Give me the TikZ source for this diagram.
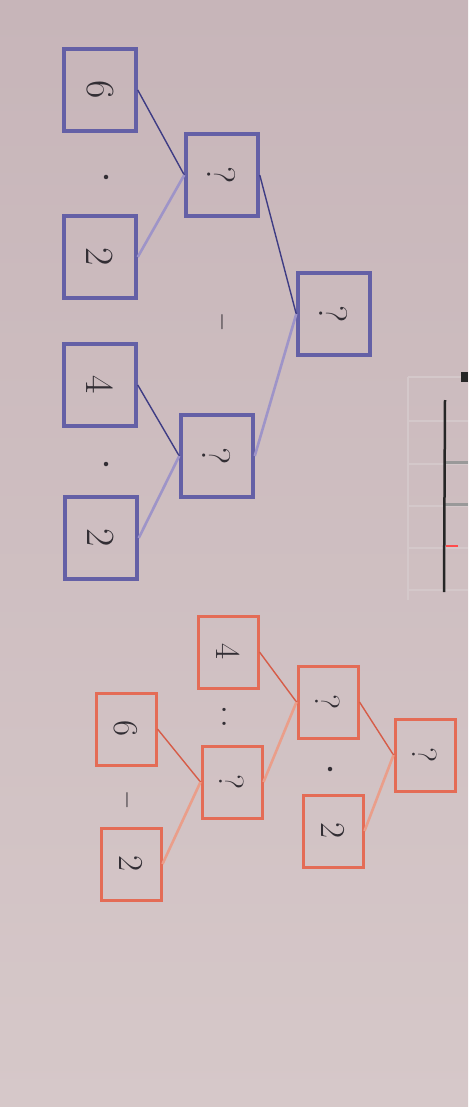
\documentclass[tikz,border=0pt]{standalone}
\usepackage{graphicx}
\usetikzlibrary{positioning}

\definecolor{paper}{RGB}{199,181,185}
\definecolor{paperlight}{RGB}{214,200,201}
\definecolor{bluebox}{RGB}{100,96,166}
\definecolor{bluedark}{RGB}{62,60,132}
\definecolor{bluelight}{RGB}{158,148,200}
\definecolor{redbox}{RGB}{228,108,86}
\definecolor{reddark}{RGB}{214,92,72}
\definecolor{redlight}{RGB}{234,158,138}
\definecolor{ink}{RGB}{50,46,52}
\definecolor{gridline}{RGB}{212,200,202}

\newcommand{\turned}[1]{\rotatebox{-90}{#1}}

\begin{document}
\begin{tikzpicture}[x=1pt, y=-1pt,
    bbox/.style={rectangle, draw=bluebox, line width=3.5pt, minimum width=72pt, minimum height=82pt, text=ink, font=\fontsize{40}{44}\selectfont},
    rbox/.style={rectangle, draw=redbox, line width=3pt, minimum width=60pt, minimum height=72pt, text=ink, font=\fontsize{35}{40}\selectfont},
    op/.style={text=ink, inner sep=0pt, font=\fontsize{40}{44}\selectfont},
    dot/.style={circle, fill=ink, inner sep=0pt, minimum size=4.5pt},
    upper/.style={line width=1.4pt},
    lower/.style={line width=2.6pt}]

    % Page
    \useasboundingbox (0,0) rectangle (468,1107);
    \fill[top color=paper, bottom color=paperlight] (0,0) rectangle (468,1107);

    % Table at the edge
    \draw[gridline, line width=1.2pt] (408,377) -- (408,600);
    \foreach \gy in {377,421,464,506,548,590}
        \draw[gridline, line width=1.2pt] (408,\gy) -- (468,\gy);
    \draw[gray!80, line width=3pt] (445,462) -- (468,462);
    \draw[gray!80, line width=3pt] (445,504) -- (468,504);
    \draw[red!70!white, line width=2pt] (446,546) -- (458,546);
    \draw[black!85, line width=2.5pt] (445,400) -- (444,592);
    \fill[black!85] (461,372) rectangle (468,382);

    %Nodes
    \node[bbox] (b6) at (100,90) {\turned{6}};
    \node[bbox] (b2a) at (100,257) {\turned{2}};
    \node[bbox] (b4) at (100,385) {\turned{4}};
    \node[bbox] (b2b) at (101,538) {\turned{2}};
    \node[bbox] (bq1) at (222,175) {\turned{?}};
    \node[bbox] (bq2) at (217,456) {\turned{?}};
    \node[bbox] (broot) at (334,314) {\turned{?}};

    \node[dot] (bdot1) at (106,177) {};
    \node[op] (bminus) at (222,322) {\turned{$-$}};
    \node[dot] (bdot2) at (106,464) {};

    \node[rbox] (r4) at (228,652) {\turned{4}};
    \node[rbox] (rq1) at (328,702) {\turned{?}};
    \node[rbox] (rroot) at (425,755) {\turned{?}};
    \node[rbox] (r6) at (126,729) {\turned{6}};
    \node[rbox] (rq2) at (232,782) {\turned{?}};
    \node[rbox] (r2a) at (333,831) {\turned{2}};
    \node[rbox] (r2b) at (131,864) {\turned{2}};

    \node[op] (rcolon) at (224,717) {:};
    \node[op] (rminus) at (127,800) {\turned{$-$}};
    \node[dot] (rdot) at (330,769) {};

    % Edges
    \draw[upper, bluedark] (b6.east) to (bq1.west);
    \draw[lower, bluelight] (b2a.east) to (bq1.west);
    \draw[upper, bluedark] (b4.east) to (bq2.west);
    \draw[lower, bluelight] (b2b.east) to (bq2.west);
    \draw[upper, bluedark] (bq1.east) to (broot.west);
    \draw[lower, bluelight] (bq2.east) to (broot.west);

    \draw[upper, reddark] (r4.east) to (rq1.west);
    \draw[lower, redlight] (rq2.east) to (rq1.west);
    \draw[upper, reddark] (r6.east) to (rq2.west);
    \draw[lower, redlight] (r2b.east) to (rq2.west);
    \draw[upper, reddark] (rq1.east) to (rroot.west);
    \draw[lower, redlight] (r2a.east) to (rroot.west);

\end{tikzpicture}
\end{document}
